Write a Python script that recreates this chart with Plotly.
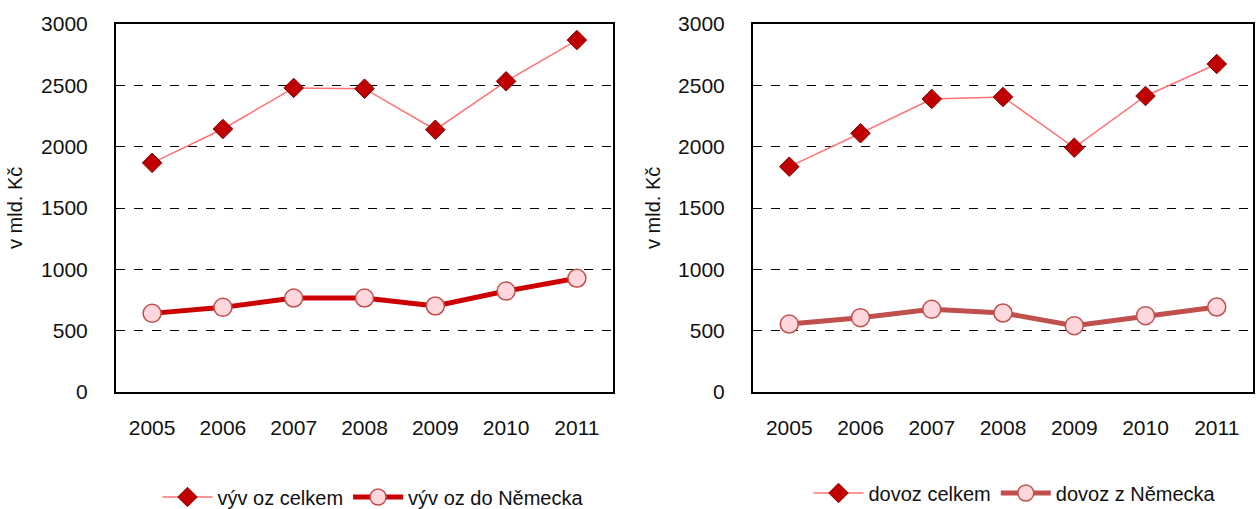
import plotly.graph_objects as go

years = ["2005", "2006", "2007", "2008", "2009", "2010", "2011"]
vyvoz_celkem = [1868, 2144, 2479, 2473, 2138, 2533, 2869]
vyvoz_de = [641, 690, 766, 766, 701, 823, 927]
dovoz_celkem = [1837, 2109, 2389, 2405, 1992, 2413, 2674]
dovoz_de = [554, 606, 674, 644, 541, 622, 693]
y_ticks = [0, 500, 1000, 1500, 2000, 2500, 3000]
y_title = "v mld. Kč"

FONT = "Liberation Sans, Arial, sans-serif"
thin_line = "#FF7377"
dia_fill = "#C00000"
dia_edge = "#7F0000"
pink = "#FFD7DC"

fig = go.Figure()

fig.add_trace(go.Scatter(x=years, y=vyvoz_celkem, name="výv oz celkem", mode="lines+markers",
                         line=dict(color=thin_line, width=1.5),
                         marker=dict(symbol="diamond", size=15, color=dia_fill, line=dict(color=dia_edge, width=1)),
                         xaxis="x", yaxis="y", legend="legend"))
fig.add_trace(go.Scatter(x=years, y=vyvoz_de, name="výv oz do Německa", mode="lines+markers",
                         line=dict(color="#CC0000", width=5),
                         marker=dict(symbol="circle", size=18, color=pink, line=dict(color="#C0504D", width=1.5)),
                         xaxis="x", yaxis="y", legend="legend"))
fig.add_trace(go.Scatter(x=years, y=dovoz_celkem, name="dovoz celkem", mode="lines+markers",
                         line=dict(color=thin_line, width=1.5),
                         marker=dict(symbol="diamond", size=15, color=dia_fill, line=dict(color=dia_edge, width=1)),
                         xaxis="x2", yaxis="y2", legend="legend2"))
fig.add_trace(go.Scatter(x=years, y=dovoz_de, name="dovoz z Německa", mode="lines+markers",
                         line=dict(color="#C0504D", width=5),
                         marker=dict(symbol="circle", size=18, color=pink, line=dict(color="#C0504D", width=1.5)),
                         xaxis="x2", yaxis="y2", legend="legend2"))

W, H = 1259, 509
ytop, ybot = 1 - 24 / H, 1 - 392 / H

xa = dict(type="category", showline=True, mirror=True, linecolor="black", linewidth=2,
          showgrid=False, ticks="", ticklabelstandoff=16, tickfont=dict(size=21, color="#111"),
          zeroline=False, fixedrange=True, automargin=False)
ya = dict(range=[0, 3000], tickvals=y_ticks, showline=True, mirror=True, linecolor="black", linewidth=2,
          showgrid=True, gridcolor="black", gridwidth=1, griddash="dash", ticks="",
          ticklabelstandoff=22, tickfont=dict(size=21, color="#111"), zeroline=False, fixedrange=True,
          automargin=False)

fig.update_layout(
    width=W, height=H,
    margin=dict(l=0, r=0, t=0, b=0, autoexpand=False),
    paper_bgcolor="white", plot_bgcolor="white",
    font=dict(family=FONT, color="#111"),
    xaxis=dict(xa, domain=[116 / W, 613 / W], anchor="y"),
    yaxis=dict(ya, domain=[ybot, ytop], anchor="x"),
    xaxis2=dict(xa, domain=[753 / W, 1253 / W], anchor="y2"),
    yaxis2=dict(ya, domain=[ybot, ytop], anchor="x2"),
    legend=dict(orientation="h", x=373 / W, xanchor="center", y=1 - 497 / H, yanchor="middle",
                font=dict(size=20), itemwidth=50, tracegroupgap=0, bgcolor="rgba(0,0,0,0)"),
    legend2=dict(orientation="h", x=1015 / W, xanchor="center", y=1 - 493 / H, yanchor="middle",
                 font=dict(size=20), itemwidth=50, tracegroupgap=0, bgcolor="rgba(0,0,0,0)"),
    annotations=[
        dict(text=y_title, x=15 / W, y=1 - 208 / H, xref="paper", yref="paper", showarrow=False,
             textangle=-90, font=dict(size=20), xanchor="center", yanchor="middle"),
        dict(text=y_title, x=653 / W, y=1 - 208 / H, xref="paper", yref="paper", showarrow=False,
             textangle=-90, font=dict(size=20), xanchor="center", yanchor="middle"),
    ],
)

fig.write_html("out.html", config={"displayModeBar": False},
               post_script="document.body.style.margin='0';document.body.style.overflow='hidden';")
